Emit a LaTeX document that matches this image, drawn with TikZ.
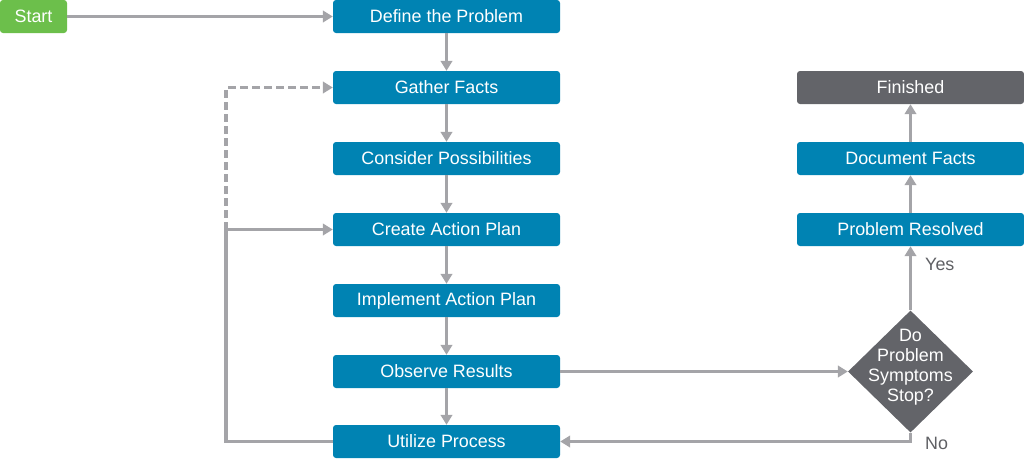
\documentclass[tikz,border=0pt]{standalone}
\usepackage{fontspec}
\setmainfont{Liberation Sans}
\usetikzlibrary{shapes.geometric,arrows.meta}
\definecolor{boxblue}{HTML}{0083B3}
\definecolor{startgreen}{HTML}{6CBF4B}
\definecolor{darkbox}{HTML}{636469}
\definecolor{linegray}{HTML}{A4A4A8}
\definecolor{labelgray}{HTML}{5F6064}
\begin{document}
\begin{tikzpicture}[x=1pt,y=-1pt,
  txt/.style={font=\fontsize{17.9}{20}\selectfont},
  box/.style={txt, rectangle, rounded corners=3pt, fill=boxblue, text=white,
    minimum width=227pt, minimum height=33pt, inner sep=0pt},
  startbox/.style={box, fill=startgreen, minimum width=67pt},
  endbox/.style={box, fill=darkbox},
  decision/.style={diamond, fill=darkbox, minimum width=125pt, minimum height=122pt, inner sep=0pt},
  lbl/.style={txt, text=labelgray, inner sep=0pt},
  arr/.style={draw=linegray, line width=3.3pt, -{Triangle[length=10pt,width=11.5pt]}},
  dashline/.style={arr, dash pattern=on 8pt off 4pt}
]
\useasboundingbox (0,0) rectangle (1024,459);

\node[startbox] (start) at (33.5,16.5) {Start};
\node[box] (define)  at (446.5,16.5)  {Define the Problem};
\node[box] (gather)  at (446.5,87.5)  {Gather Facts};
\node[box] (consider) at (446.5,158.5) {Consider Possibilities};
\node[box] (create)  at (446.5,229.5) {Create Action Plan};
\node[box] (implement) at (446.5,300.5) {Implement Action Plan};
\node[box] (observe) at (446.5,371.5) {Observe Results};
\node[box] (utilize) at (446.5,441.5) {Utilize Process};

\node[endbox] (finished) at (910.5,87.5) {Finished};
\node[box] (document) at (910.5,158.5) {Document Facts};
\node[box] (resolved) at (910.5,229.5) {Problem Resolved};

\node[decision] (dec) at (910.5,371.5) {};
\node[txt, text=white, align=center, inner sep=0pt] (dectext) at (910.5,367.5) {Do\\Problem\\Symptoms\\Stop?};

\node[lbl, anchor=west] (yes) at (925,264) {Yes};
\node[lbl, anchor=west] (no) at (925,443) {No};

\coordinate (lp) at (226,229.5);

\draw[arr] (start) -- (define);
\draw[arr] (define) -- (gather);
\draw[arr] (gather) -- (consider);
\draw[arr] (consider) -- (create);
\draw[arr] (create) -- (implement);
\draw[arr] (implement) -- (observe);
\draw[arr] (observe) -- (utilize);
\draw[arr] (observe) -- (dec);
\draw[arr] (dec.south) |- (utilize.east);
\draw[arr] (dec.north) -- (resolved);
\draw[arr] (resolved) -- (document);
\draw[arr] (document) -- (finished);
\draw[arr] (utilize.west) -| (lp) -- (create.west);
\draw[dashline] (lp) |- (gather.west);
\end{tikzpicture}
\end{document}
